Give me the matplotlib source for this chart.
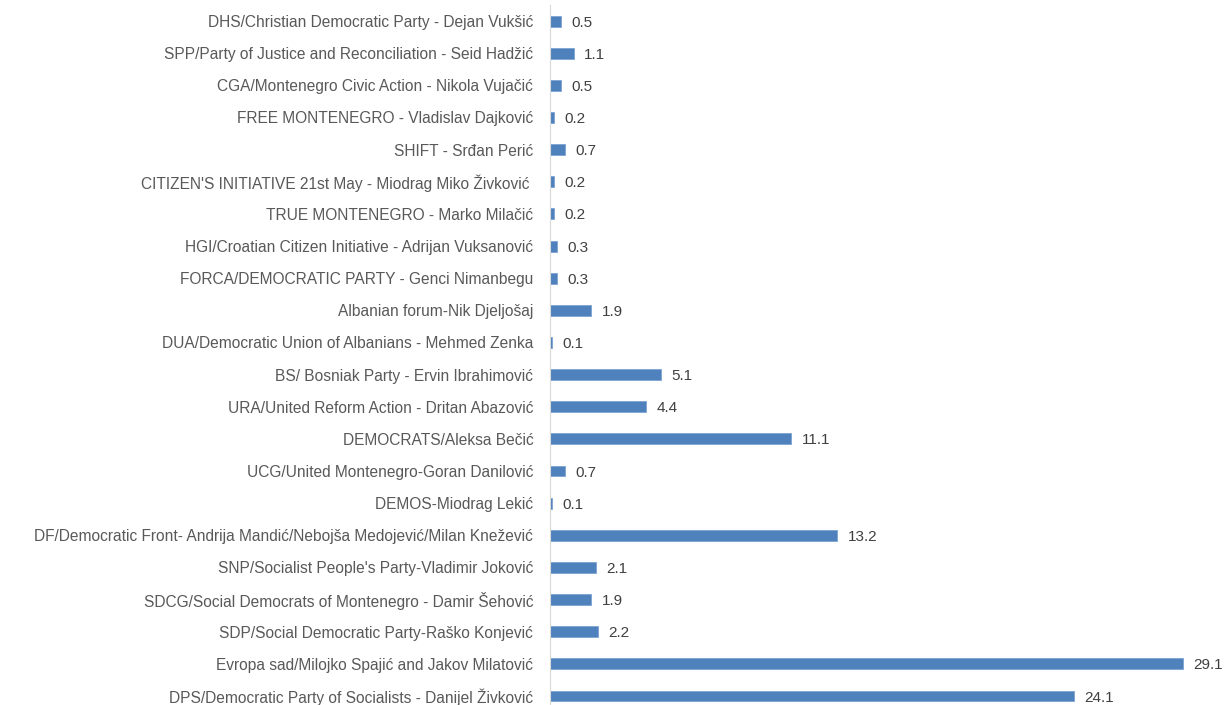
import matplotlib.pyplot as plt

# parties, listed bottom to top as in the chart
parties = [
    "DPS/Democratic Party of Socialists - Danijel Živković",
    "Evropa sad/Milojko Spajić and Jakov Milatović",
    "SDP/Social Democratic Party-Raško Konjević",
    "SDCG/Social Democrats of Montenegro - Damir Šehović",
    "SNP/Socialist People's Party-Vladimir Joković",
    "DF/Democratic Front- Andrija Mandić/Nebojša Medojević/Milan Knežević",
    "DEMOS-Miodrag Lekić",
    "UCG/United Montenegro-Goran Danilović",
    "DEMOCRATS/Aleksa Bečić",
    "URA/United Reform Action - Dritan Abazović",
    "BS/ Bosniak Party - Ervin Ibrahimović",
    "DUA/Democratic Union of Albanians - Mehmed Zenka",
    "Albanian forum-Nik Djeljošaj",
    "FORCA/DEMOCRATIC PARTY - Genci Nimanbegu",
    "HGI/Croatian Citizen Initiative - Adrijan Vuksanović",
    "TRUE MONTENEGRO - Marko Milačić",
    "CITIZEN'S INITIATIVE 21st May - Miodrag Miko Živković ",
    "SHIFT - Srđan Perić",
    "FREE MONTENEGRO - Vladislav Dajković",
    "CGA/Montenegro Civic Action - Nikola Vujačić",
    "SPP/Party of Justice and Reconciliation - Seid Hadžić",
    "DHS/Christian Democratic Party - Dejan Vukšić",
]
values = [24.1, 29.1, 2.2, 1.9, 2.1, 13.2, 0.1, 0.7, 11.1, 4.4, 5.1,
          0.1, 1.9, 0.3, 0.3, 0.2, 0.2, 0.7, 0.2, 0.5, 1.1, 0.5]

TEXT = "#595959"
plt.rcParams["font.family"] = "Liberation Sans"

fig = plt.figure(figsize=(12.27, 7.05), dpi=100)
ax = fig.add_axes([550 / 1227, 0.0, 665 / 1227, 700 / 705])

ypos = list(range(len(parties)))
ax.barh(ypos, values, height=0.34, color="#4F81BD", edgecolor="#7EA3D3", linewidth=0.6)

# value labels to the right of each bar
for y, v in zip(ypos, values):
    ax.annotate(f"{v:.1f}", (v, y), xytext=(7.5, 0), textcoords="offset points",
                ha="left", va="center_baseline", fontsize=11, color="#404040")

ax.set_yticks(ypos)
ax.set_yticklabels(parties, fontsize=11.2, color=TEXT)
ax.tick_params(axis="y", length=0, pad=12)
ax.set_xticks([])
ax.set_xlim(0, 30.57)
ax.set_ylim(-0.28, 21.5)

for side in ["top", "right", "bottom"]:
    ax.spines[side].set_visible(False)
ax.spines["left"].set_color("#D9D9D9")

plt.savefig("out.png", dpi=100)
